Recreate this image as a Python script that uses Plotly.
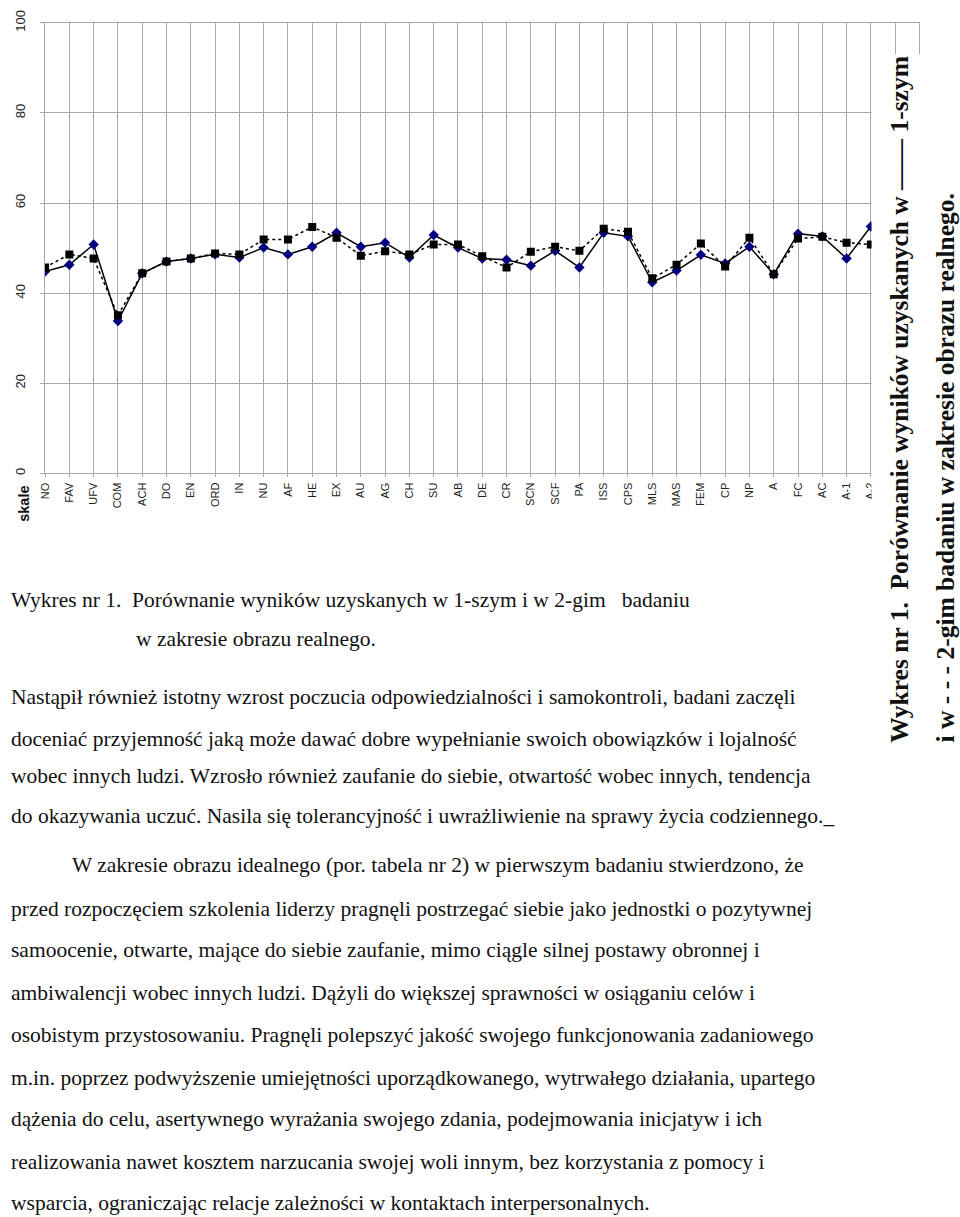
import plotly.graph_objects as go

categories = ["NO", "FAV", "UFV", "COM", "ACH", "DO", "EN", "ORD", "IN", "NU", "AF", "HE",
              "EX", "AU", "AG", "CH", "SU", "AB", "DE", "CR", "SCN", "SCF", "PA", "ISS",
              "CPS", "MLS", "MAS", "FEM", "CP", "NP", "A", "FC", "AC", "A-1", "A-2"]
badanie_1 = [44.8, 46.3, 50.8, 33.8, 44.4, 47.0, 47.7, 48.6, 47.9, 50.1, 48.6, 50.3,
             53.4, 50.3, 51.2, 47.9, 52.9, 50.1, 47.7, 47.4, 46.1, 49.4, 45.7, 53.4,
             52.6, 42.4, 45.0, 48.5, 46.6, 50.3, 44.2, 53.2, 52.6, 47.7, 54.8]
badanie_2 = [45.7, 48.6, 47.7, 35.1, 44.4, 47.0, 47.7, 48.8, 48.6, 51.9, 51.9, 54.7,
             52.3, 48.3, 49.3, 48.6, 50.8, 50.8, 48.2, 45.7, 49.2, 50.3, 49.4, 54.3,
             53.6, 43.3, 46.3, 51.0, 45.9, 52.3, 44.2, 52.1, 52.5, 51.2, 50.8]
y_ticks = [0, 20, 40, 60, 80, 100]

W, H = 960, 1217
idx = list(range(len(categories)))
extra = [len(categories), len(categories) + 1]

fig = go.Figure()
fig.add_trace(go.Scatter(
    x=idx, y=badanie_1, mode="lines+markers", name="1-szym",
    line=dict(color="black", width=1.5),
    marker=dict(symbol="diamond", color="#000080", size=8),
))
fig.add_trace(go.Scatter(
    x=idx, y=badanie_2, mode="lines+markers", name="2-gim",
    line=dict(color="black", width=1.5, dash="dot"),
    marker=dict(symbol="square", color="black", size=8),
))

def px(x):
    return x / W

def py(y):
    return 1 - y / H

fig.update_layout(
    width=W, height=H,
    margin=dict(l=0, r=0, t=0, b=0),
    paper_bgcolor="white", plot_bgcolor="white",
    showlegend=False,
    xaxis=dict(
        domain=[px(39.3), px(919.2)],
        range=[0, len(categories) + 1],
        tickmode="array",
        tickvals=idx + extra,
        ticktext=categories + ["", ""],
        tickangle=-90,
        tickfont=dict(family="Liberation Sans, Arial", size=11, color="#222"),
        showgrid=True, gridcolor="#a8a8a8", gridwidth=1,
        showline=True, linecolor="#a8a8a8", mirror=True,
        ticks="outside", ticklen=3, tickcolor="#a8a8a8",
        ticklabelstandoff=1,
        zeroline=False,
    ),
    yaxis=dict(
        domain=[py(466), py(10)],
        range=[0, 100],
        tickmode="array", tickvals=y_ticks,
        tickangle=-90,
        tickfont=dict(family="Liberation Sans, Arial", size=13, color="#222"),
        showgrid=True, gridcolor="#a8a8a8", gridwidth=1,
        showline=True, linecolor="#a8a8a8", mirror=True,
        ticks="outside", ticklen=4, tickcolor="#a8a8a8",
        ticklabelstandoff=10,
        ticklabeloverflow="allow",
        zeroline=False,
    ),
)

# white panel where the rotated caption covers the chart
fig.add_shape(type="rect", xref="paper", yref="paper",
              x0=px(871), x1=1.0, y0=0, y1=py(42),
              fillcolor="white", line=dict(width=0), layer="above")

fig.add_annotation(text="<b>skale</b>", xref="paper", yref="paper",
                   x=px(18), y=py(497), xanchor="center", yanchor="middle",
                   showarrow=False, textangle=-90,
                   font=dict(family="Liberation Sans, Arial", size=14.5, color="#111"))

serif = "Liberation Serif, Times New Roman, serif"
fig.add_annotation(text="<b>Wykres nr 1.  Porównanie wyników uzyskanych w —— 1-szym</b>",
                   xref="paper", yref="paper", x=px(899), y=py(741),
                   xanchor="center", yanchor="bottom", showarrow=False, textangle=-90,
                   font=dict(family=serif, size=25.5, color="#111"))
fig.add_annotation(text="<b>i w - - - 2-gim badaniu w zakresie obrazu realnego.</b>",
                   xref="paper", yref="paper", x=px(945), y=py(741),
                   xanchor="center", yanchor="bottom", showarrow=False, textangle=-90,
                   font=dict(family=serif, size=25.5, color="#111"))

body = [
    (3, 594, "Wykres nr 1.  Porównanie wyników uzyskanych w 1-szym i w 2-gim   badaniu"),
    (129, 634, "w zakresie obrazu realnego."),
    (3, 693, "Nastąpił również istotny wzrost poczucia odpowiedzialności i samokontroli, badani zaczęli"),
    (3, 735, "doceniać przyjemność jaką może dawać dobre wypełnianie swoich obowiązków i lojalność"),
    (3, 773, "wobec innych ludzi. Wzrosło również zaufanie do siebie, otwartość wobec innych, tendencja"),
    (3, 813, "do okazywania uczuć. Nasila się tolerancyjność i uwrażliwienie na sprawy życia codziennego._"),
    (64, 863, "W zakresie obrazu idealnego (por. tabela nr 2) w pierwszym badaniu stwierdzono, że"),
    (3, 907, "przed rozpoczęciem szkolenia liderzy pragnęli postrzegać siebie jako jednostki o pozytywnej"),
    (3, 949, "samoocenie, otwarte, mające do siebie zaufanie, mimo ciągle silnej postawy obronnej i"),
    (3, 992, "ambiwalencji wobec innych ludzi. Dążyli do większej sprawności w osiąganiu celów i"),
    (3, 1035, "osobistym przystosowaniu. Pragnęli polepszyć jakość swojego funkcjonowania zadaniowego"),
    (3, 1078, "m.in. poprzez podwyższenie umiejętności uporządkowanego, wytrwałego działania, upartego"),
    (3, 1120, "dążenia do celu, asertywnego wyrażania swojego zdania, podejmowania inicjatyw i ich"),
    (3, 1163, "realizowania nawet kosztem narzucania swojej woli innym, bez korzystania z pomocy i"),
    (3, 1205, "wsparcia, ograniczając relacje zależności w kontaktach interpersonalnych."),
]
for x0, y0, t in body:
    fig.add_annotation(text=t, xref="paper", yref="paper", x=px(x0), y=py(y0),
                       xanchor="left", yanchor="middle", showarrow=False,
                       font=dict(family=serif, size=21.5, color="#111"))

fig.write_html("out.html", config={"displayModeBar": False},
               post_script="document.body.style.margin='0';document.body.style.overflow='hidden';")
